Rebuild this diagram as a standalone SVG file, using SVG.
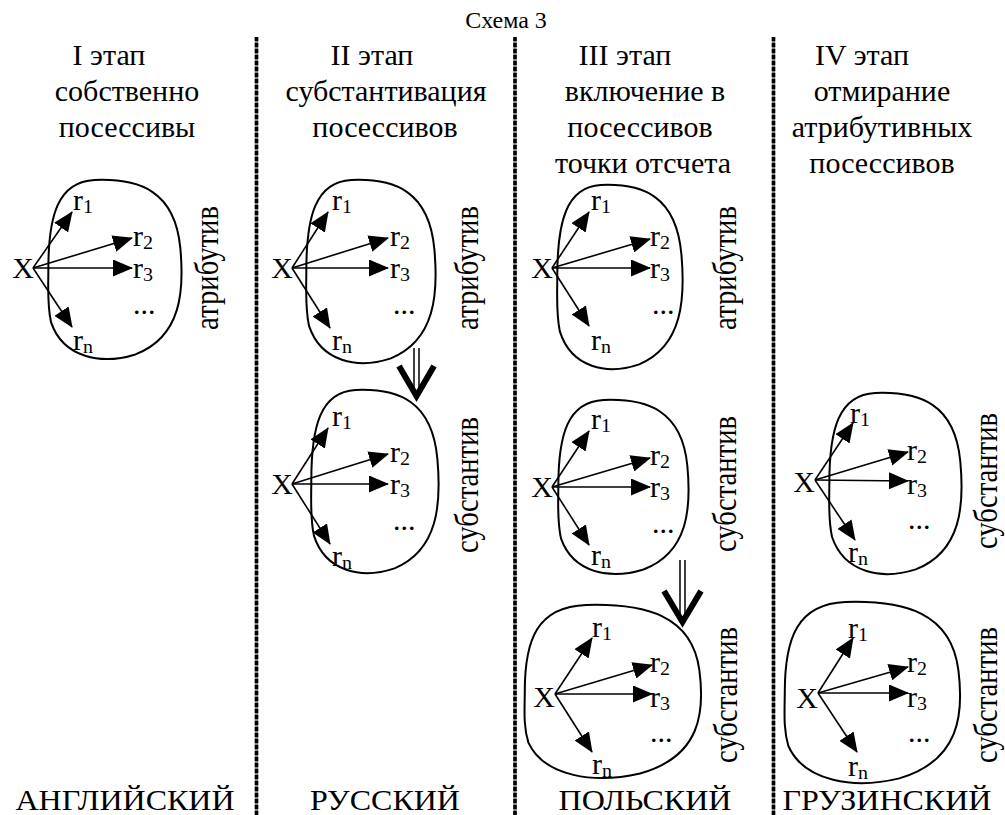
<svg xmlns="http://www.w3.org/2000/svg" xmlns:xlink="http://www.w3.org/1999/xlink" width="1005" height="815" viewBox="0 0 1005 815">
  <style>
    text { font-family: "Liberation Serif", "Times New Roman", serif; fill: #000; }
    .h { font-size: 30px; text-anchor: middle; }
    .title { font-size: 24px; text-anchor: middle; }
    .n { font-size: 30px; }
    .x { font-size: 30px; text-anchor: end; }
    .s { font-size: 20px; }
    .v { font-size: 33px; text-anchor: middle; }
    .lang { font-size: 32px; text-anchor: middle; }
    .ray { stroke: #000; stroke-width: 1.6; fill: none; marker-end: url(#tri); }
    .blob { fill: none; stroke: #000; stroke-width: 2; vector-effect: non-scaling-stroke; }
    .div-base { stroke: #808080; stroke-width: 3.5; }
    .div-dash { stroke: #000; stroke-width: 3.5; stroke-dasharray: 4 2; }
    .rail { stroke: #000; stroke-width: 1.5; }
    .chev { fill: none; stroke: #000; stroke-width: 6; stroke-linejoin: miter; stroke-miterlimit: 10; }
  </style>
  <defs>
    <marker id="tri" markerUnits="userSpaceOnUse" markerWidth="20" markerHeight="17" refX="19" refY="8.5" orient="auto">
      <path d="M0,0 L20,8.5 L0,17 Z" fill="#000"/>
    </marker>
    <!-- rounded outline in a 100x100 box, scaled per node -->
    <path id="blob" class="blob" d="M1,50 C1,20 8,1 35,0 C68,-1 94,6 98,38 C101,62 99,88 65,98 C40,104 12,100 3,80 C0,70 1,60 1,50 Z"/>
  </defs>

  <rect width="1005" height="815" fill="#fff"/>

  <!-- column separators -->
  <g id="separators">
    <line class="div-base" x1="256.5" y1="37" x2="256.5" y2="815"/>
    <line class="div-dash" x1="256.5" y1="37" x2="256.5" y2="815"/>
    <line class="div-base" x1="515" y1="37" x2="515" y2="815"/>
    <line class="div-dash" x1="515" y1="37" x2="515" y2="815"/>
    <line class="div-base" x1="773.5" y1="37" x2="773.5" y2="815"/>
    <line class="div-dash" x1="773.5" y1="37" x2="773.5" y2="815"/>
  </g>

  <!-- headings -->
  <g id="headings">
    <text class="title" transform="translate(506,28) scale(1,.95)">Схема 3</text>

    <text class="h" transform="translate(109,65) scale(1,.95)">I этап</text>
    <text class="h" transform="translate(127,101) scale(1,.95)">собственно</text>
    <text class="h" transform="translate(127,137) scale(1,.95)">посессивы</text>

    <text class="h" transform="translate(372,65) scale(1,.95)">II этап</text>
    <text class="h" transform="translate(386,101) scale(1,.95)">субстантивация</text>
    <text class="h" transform="translate(385,137) scale(1,.95)">посессивов</text>

    <text class="h" transform="translate(625,65) scale(1,.95)">III этап</text>
    <text class="h" transform="translate(645,101) scale(1,.95)">включение в</text>
    <text class="h" transform="translate(640,137) scale(1,.95)">посессивов</text>
    <text class="h" transform="translate(643,173) scale(1,.95)">точки отсчета</text>

    <text class="h" transform="translate(862,65) scale(1,.95)">IV этап</text>
    <text class="h" transform="translate(882,101) scale(1,.95)">отмирание</text>
    <text class="h" transform="translate(882,137) scale(1,.95)">атрибутивных</text>
    <text class="h" transform="translate(882,173) scale(1,.95)">посессивов</text>
  </g>

  <!-- stage I: attributive -->
  <g id="s1-attr">
    <use xlink:href="#blob" href="#blob" transform="translate(47,180) scale(1.36,1.78)"/>
    <line class="ray" x1="33" y1="268" x2="72" y2="212"/>
    <line class="ray" x1="33" y1="268" x2="132" y2="238"/>
    <line class="ray" x1="33" y1="268" x2="132" y2="268"/>
    <line class="ray" x1="33" y1="268" x2="72" y2="327"/>
    <text class="x" transform="translate(34,278) scale(1,.95)">X</text>
    <text class="n" transform="translate(73,210) scale(1,.95)">r<tspan class="s" dy="3">1</tspan></text>
    <text class="n" transform="translate(133,246) scale(1,.95)">r<tspan class="s" dy="3">2</tspan></text>
    <text class="n" transform="translate(133,278) scale(1,.95)">r<tspan class="s" dy="3">3</tspan></text>
    <text class="n" transform="translate(133,314) scale(1,.95)">...</text>
    <text class="n" transform="translate(73,350) scale(1,.95)">r<tspan class="s" dy="3">n</tspan></text>
    <text class="v" transform="translate(218,268) scale(1,.87) rotate(-90)">атрибутив</text>
  </g>

  <!-- stage II: attributive -->
  <g id="s2-attr">
    <use xlink:href="#blob" href="#blob" transform="translate(305,180) scale(1.32,1.82)"/>
    <line class="ray" x1="292" y1="268" x2="328" y2="212"/>
    <line class="ray" x1="292" y1="268" x2="388" y2="238"/>
    <line class="ray" x1="292" y1="268" x2="388" y2="268"/>
    <line class="ray" x1="292" y1="268" x2="330" y2="328"/>
    <text class="x" transform="translate(293,278) scale(1,.95)">X</text>
    <text class="n" transform="translate(332,210) scale(1,.95)">r<tspan class="s" dy="3">1</tspan></text>
    <text class="n" transform="translate(390,246) scale(1,.95)">r<tspan class="s" dy="3">2</tspan></text>
    <text class="n" transform="translate(390,278) scale(1,.95)">r<tspan class="s" dy="3">3</tspan></text>
    <text class="n" transform="translate(393,314) scale(1,.95)">...</text>
    <text class="n" transform="translate(332,350) scale(1,.95)">r<tspan class="s" dy="3">n</tspan></text>
    <text class="v" transform="translate(478,268) scale(1,.87) rotate(-90)">атрибутив</text>
  </g>

  <!-- stage II: substantive -->
  <g id="s2-subst">
    <use xlink:href="#blob" href="#blob" transform="translate(310,390) scale(1.30,1.82)"/>
    <line class="ray" x1="292" y1="484" x2="328" y2="428"/>
    <line class="ray" x1="292" y1="484" x2="388" y2="454"/>
    <line class="ray" x1="292" y1="484" x2="388" y2="484"/>
    <line class="ray" x1="292" y1="484" x2="330" y2="544"/>
    <text class="x" transform="translate(293,494) scale(1,.95)">X</text>
    <text class="n" transform="translate(332,426) scale(1,.95)">r<tspan class="s" dy="3">1</tspan></text>
    <text class="n" transform="translate(390,462) scale(1,.95)">r<tspan class="s" dy="3">2</tspan></text>
    <text class="n" transform="translate(390,494) scale(1,.95)">r<tspan class="s" dy="3">3</tspan></text>
    <text class="n" transform="translate(393,530) scale(1,.95)">...</text>
    <text class="n" transform="translate(332,566) scale(1,.95)">r<tspan class="s" dy="3">n</tspan></text>
    <text class="v" transform="translate(478,485) scale(1,.87) rotate(-90)">субстантив</text>
  </g>

  <!-- stage III: attributive -->
  <g id="s3-attr">
    <use xlink:href="#blob" href="#blob" transform="translate(556,185) scale(1.28,1.83)"/>
    <line class="ray" x1="552" y1="268" x2="589" y2="212"/>
    <line class="ray" x1="552" y1="268" x2="650" y2="239"/>
    <line class="ray" x1="552" y1="268" x2="650" y2="268"/>
    <line class="ray" x1="552" y1="268" x2="589" y2="326"/>
    <text class="x" transform="translate(553,278) scale(1,.95)">X</text>
    <text class="n" transform="translate(591,210) scale(1,.95)">r<tspan class="s" dy="3">1</tspan></text>
    <text class="n" transform="translate(650,246) scale(1,.95)">r<tspan class="s" dy="3">2</tspan></text>
    <text class="n" transform="translate(650,278) scale(1,.95)">r<tspan class="s" dy="3">3</tspan></text>
    <text class="n" transform="translate(652,314) scale(1,.95)">...</text>
    <text class="n" transform="translate(591,350) scale(1,.95)">r<tspan class="s" dy="3">n</tspan></text>
    <text class="v" transform="translate(736,268) scale(1,.87) rotate(-90)">атрибутив</text>
  </g>

  <!-- stage III: substantive -->
  <g id="s3-subst">
    <use xlink:href="#blob" href="#blob" transform="translate(557,400) scale(1.33,1.73)"/>
    <line class="ray" x1="552" y1="487" x2="589" y2="431"/>
    <line class="ray" x1="552" y1="487" x2="650" y2="458"/>
    <line class="ray" x1="552" y1="487" x2="650" y2="487"/>
    <line class="ray" x1="552" y1="487" x2="589" y2="545"/>
    <text class="x" transform="translate(553,497) scale(1,.95)">X</text>
    <text class="n" transform="translate(591,429) scale(1,.95)">r<tspan class="s" dy="3">1</tspan></text>
    <text class="n" transform="translate(650,465) scale(1,.95)">r<tspan class="s" dy="3">2</tspan></text>
    <text class="n" transform="translate(650,497) scale(1,.95)">r<tspan class="s" dy="3">3</tspan></text>
    <text class="n" transform="translate(652,533) scale(1,.95)">...</text>
    <text class="n" transform="translate(591,565) scale(1,.95)">r<tspan class="s" dy="3">n</tspan></text>
    <text class="v" transform="translate(736,484) scale(1,.87) rotate(-90)">субстантив</text>
  </g>

  <!-- stage III: point of reference included -->
  <g id="s3-ref">
    <use xlink:href="#blob" href="#blob" transform="translate(523,605) scale(1.80,1.72)"/>
    <line class="ray" x1="555" y1="694" x2="592" y2="638"/>
    <line class="ray" x1="555" y1="694" x2="652" y2="665"/>
    <line class="ray" x1="555" y1="694" x2="652" y2="694"/>
    <line class="ray" x1="555" y1="694" x2="592" y2="752"/>
    <text class="x" transform="translate(555,707) scale(1,.95)">X</text>
    <text class="n" transform="translate(592,637) scale(1,.95)">r<tspan class="s" dy="3">1</tspan></text>
    <text class="n" transform="translate(650,672) scale(1,.95)">r<tspan class="s" dy="3">2</tspan></text>
    <text class="n" transform="translate(650,707) scale(1,.95)">r<tspan class="s" dy="3">3</tspan></text>
    <text class="n" transform="translate(650,742) scale(1,.95)">...</text>
    <text class="n" transform="translate(592,774) scale(1,.95)">r<tspan class="s" dy="3">n</tspan></text>
    <text class="v" transform="translate(737,695) scale(1,.87) rotate(-90)">субстантив</text>
  </g>

  <!-- stage IV: substantive -->
  <g id="s4-subst">
    <use xlink:href="#blob" href="#blob" transform="translate(828,393) scale(1.35,1.80)"/>
    <line class="ray" x1="815" y1="480" x2="853" y2="423"/>
    <line class="ray" x1="815" y1="480" x2="908" y2="452"/>
    <line class="ray" x1="815" y1="480" x2="908" y2="481"/>
    <line class="ray" x1="815" y1="480" x2="855" y2="540"/>
    <text class="x" transform="translate(815,492) scale(1,.95)">X</text>
    <text class="n" transform="translate(850,423) scale(1,.95)">r<tspan class="s" dy="3">1</tspan></text>
    <text class="n" transform="translate(907,460) scale(1,.95)">r<tspan class="s" dy="3">2</tspan></text>
    <text class="n" transform="translate(907,494) scale(1,.95)">r<tspan class="s" dy="3">3</tspan></text>
    <text class="n" transform="translate(908,529) scale(1,.95)">...</text>
    <text class="n" transform="translate(848,562) scale(1,.95)">r<tspan class="s" dy="3">n</tspan></text>
    <text class="v" transform="translate(997,481) scale(1,.87) rotate(-90)">субстантив</text>
  </g>

  <!-- stage IV: point of reference included -->
  <g id="s4-ref">
    <use xlink:href="#blob" href="#blob" transform="translate(783,602) scale(1.79,1.80)"/>
    <line class="ray" x1="818" y1="693" x2="853" y2="638"/>
    <line class="ray" x1="818" y1="693" x2="908" y2="667"/>
    <line class="ray" x1="818" y1="693" x2="908" y2="693"/>
    <line class="ray" x1="818" y1="693" x2="857" y2="752"/>
    <text class="x" transform="translate(818,708) scale(1,.95)">X</text>
    <text class="n" transform="translate(848,638) scale(1,.95)">r<tspan class="s" dy="3">1</tspan></text>
    <text class="n" transform="translate(907,672) scale(1,.95)">r<tspan class="s" dy="3">2</tspan></text>
    <text class="n" transform="translate(907,707) scale(1,.95)">r<tspan class="s" dy="3">3</tspan></text>
    <text class="n" transform="translate(908,742) scale(1,.95)">...</text>
    <text class="n" transform="translate(848,776) scale(1,.95)">r<tspan class="s" dy="3">n</tspan></text>
    <text class="v" transform="translate(997,695) scale(1,.87) rotate(-90)">субстантив</text>
  </g>

  <!-- transitions between stages (double arrows) -->
  <g id="connectors">
    <g id="s2-attr-to-subst">
      <line class="rail" x1="414" y1="348" x2="414" y2="394"/>
      <line class="rail" x1="419" y1="348" x2="419" y2="394"/>
      <path class="chev" d="M399,366 L416.5,396 L434,366"/>
    </g>
    <g id="s3-subst-to-ref">
      <line class="rail" x1="680" y1="560" x2="680" y2="620"/>
      <line class="rail" x1="685" y1="560" x2="685" y2="620"/>
      <path class="chev" d="M664,591 L682.5,622 L701,591"/>
    </g>
  </g>

  <!-- languages -->
  <g id="languages">
    <text class="lang" transform="translate(125,810) scale(1,.95)">АНГЛИЙСКИЙ</text>
    <text class="lang" transform="translate(385,810) scale(1,.95)">РУССКИЙ</text>
    <text class="lang" transform="translate(645,810) scale(1,.95)">ПОЛЬСКИЙ</text>
    <text class="lang" transform="translate(887,810) scale(1,.95)">ГРУЗИНСКИЙ</text>
  </g>
</svg>
